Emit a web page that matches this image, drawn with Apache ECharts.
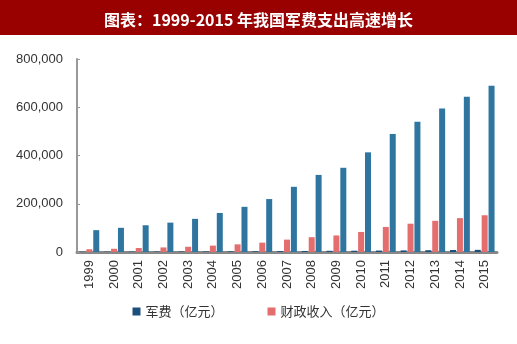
<!DOCTYPE html>
<html><head><meta charset="utf-8">
<script src="https://cdn.jsdelivr.net/npm/echarts@6/dist/echarts.min.js"></script>
<style>html,body{margin:0;padding:0;background:#fff}#c{width:517px;height:344px}</style>
</head><body><div id="c"></div>
<script>
const years = ['1999','2000','2001','2002','2003','2004','2005','2006','2007','2008','2009','2010','2011','2012','2013','2014','2015'];
const military = [1076,1208,1442,1708,1908,2200,2475,2979,3555,4179,4951,5333,6028,6692,7410,8290,8869];
const revenue = [11444,13395,16386,18904,21715,26396,31649,38760,51322,61330,68518,83102,103874,117254,129210,140370,152269];
const gdp = [90564,100280,110863,121717,137422,161840,187319,219439,270232,319516,349081,413030,489301,540367,595244,643974,689052];
const yTicks = [0,200000,400000,600000,800000];
const titleText = '图表：1999-2015 年我国军费支出高速增长';

const chart = echarts.init(document.getElementById('c'));
chart.setOption({
  animation:false,
  backgroundColor:'#fff',
  graphic:[{type:'rect',left:0,top:0,shape:{width:517,height:35},style:{fill:'#990000'},z:-1}],
  title:{text:titleText,left:'center',top:7,textStyle:{color:'#fff',fontSize:16,fontWeight:'bold',fontFamily:'Noto Sans CJK SC'}},
  grid:{left:77,right:20,top:59,bottom:92,containLabel:false},
  legend:{bottom:21,left:'center',itemWidth:8,itemHeight:8,itemGap:44,icon:'rect',
    data:['军费（亿元）','财政收入（亿元）'],
    textStyle:{fontSize:13,color:'#333',fontFamily:'Noto Sans CJK SC'}},
  xAxis:{type:'category',data:years,
    axisLine:{lineStyle:{color:'#888',width:3}},axisTick:{show:false},
    axisLabel:{rotate:90,fontSize:13,color:'#333',margin:8,fontFamily:'Liberation Sans',interval:0}},
  yAxis:{type:'value',min:0,max:800000,interval:200000,
    axisLine:{show:true,lineStyle:{color:'#999',width:2}},
    axisTick:{show:true,inside:true,length:3,lineStyle:{color:'#999'}},
    splitLine:{show:false},
    axisLabel:{fontSize:13,color:'#333',margin:14,fontFamily:'Liberation Sans',
      formatter:v=>yTicks.includes(v)?v.toLocaleString('en-US'):''}},
  series:[
    {name:'军费（亿元）',type:'bar',data:military,barWidth:6,barGap:'15%',itemStyle:{color:'#1B4F7C'}},
    {name:'财政收入（亿元）',type:'bar',data:revenue,barWidth:6,barGap:'15%',itemStyle:{color:'#E46D6D'}},
    {name:'GDP',type:'bar',data:gdp,barWidth:6,barGap:'15%',itemStyle:{color:'#2E75A0'}}
  ]
});
</script></body></html>
